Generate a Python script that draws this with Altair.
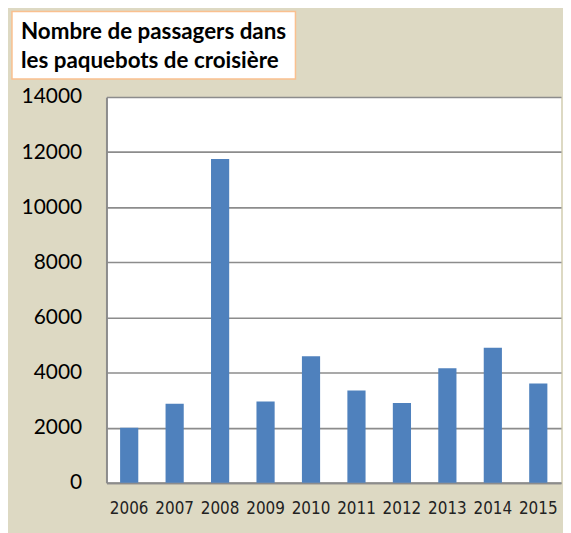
import altair as alt
import pandas as pd

years = ["2006", "2007", "2008", "2009", "2010", "2011", "2012", "2013", "2014", "2015"]
passengers = [2000, 2870, 11750, 2950, 4590, 3350, 2900, 4160, 4900, 3600]
y_ticks = [0, 2000, 4000, 6000, 8000, 10000, 12000, 14000]
title_lines = ["Nombre de passagers dans", "les paquebots de croisière"]

df = pd.DataFrame({"year": years, "passengers": passengers})

W, H = 457, 388

bars = alt.Chart(df).mark_bar(color="#4F81BD").encode(
    x=alt.X("year:N", sort=years,
            scale=alt.Scale(paddingInner=0.6, paddingOuter=0.3),
            axis=alt.Axis(title=None, labelAngle=0, labelFont="DejaVu Sans Condensed",
                          labelFontSize=17, labelColor="#222222", labelPadding=26,
                          labelBaseline="middle", ticks=False, domainColor="#8C8C8C",
                          domainWidth=2, grid=False)),
    y=alt.Y("passengers:Q",
            scale=alt.Scale(domain=[0, 14000], nice=False),
            axis=alt.Axis(title=None, values=y_ticks, format="d", labelFont="Lato",
                          labelFontSize=21, labelColor="#000000", labelPadding=25,
                          ticks=False, domainColor="#8C8C8C", domainWidth=2,
                          gridColor="#8C8C8C", gridWidth=1.6, gridOpacity=1)),
)

box = alt.Chart(pd.DataFrame({"t": [title_lines[0]]})).mark_rect(
    fill="white", stroke="#FAC08F", strokeWidth=1.5
).encode(
    x=alt.value(-95), x2=alt.value(190), y=alt.value(-86), y2=alt.value(-18)
)

text_props = dict(font="Lato", fontWeight="bold", fontSize=22.5, align="left",
                  baseline="alphabetic", color="#000000")

line1 = alt.Chart(pd.DataFrame({"line": [title_lines[0]]})).mark_text(**text_props).encode(
    text="line:N", x=alt.value(-86), y=alt.value(-58)
)
line2 = alt.Chart(pd.DataFrame({"line": [title_lines[1]]})).mark_text(**text_props).encode(
    text="line:N", x=alt.value(-86), y=alt.value(-29)
)

chart = alt.layer(bars, box, line1, line2).properties(
    width=W, height=H,
    background="#DDD9C3",
    padding={"left": 99, "top": 88, "right": 2, "bottom": 50},
    autosize=alt.AutoSizeParams(type="none"),
).configure_view(fill="white", stroke=None)

chart.save("out.html", embed_options={"renderer": "svg", "actions": False})
